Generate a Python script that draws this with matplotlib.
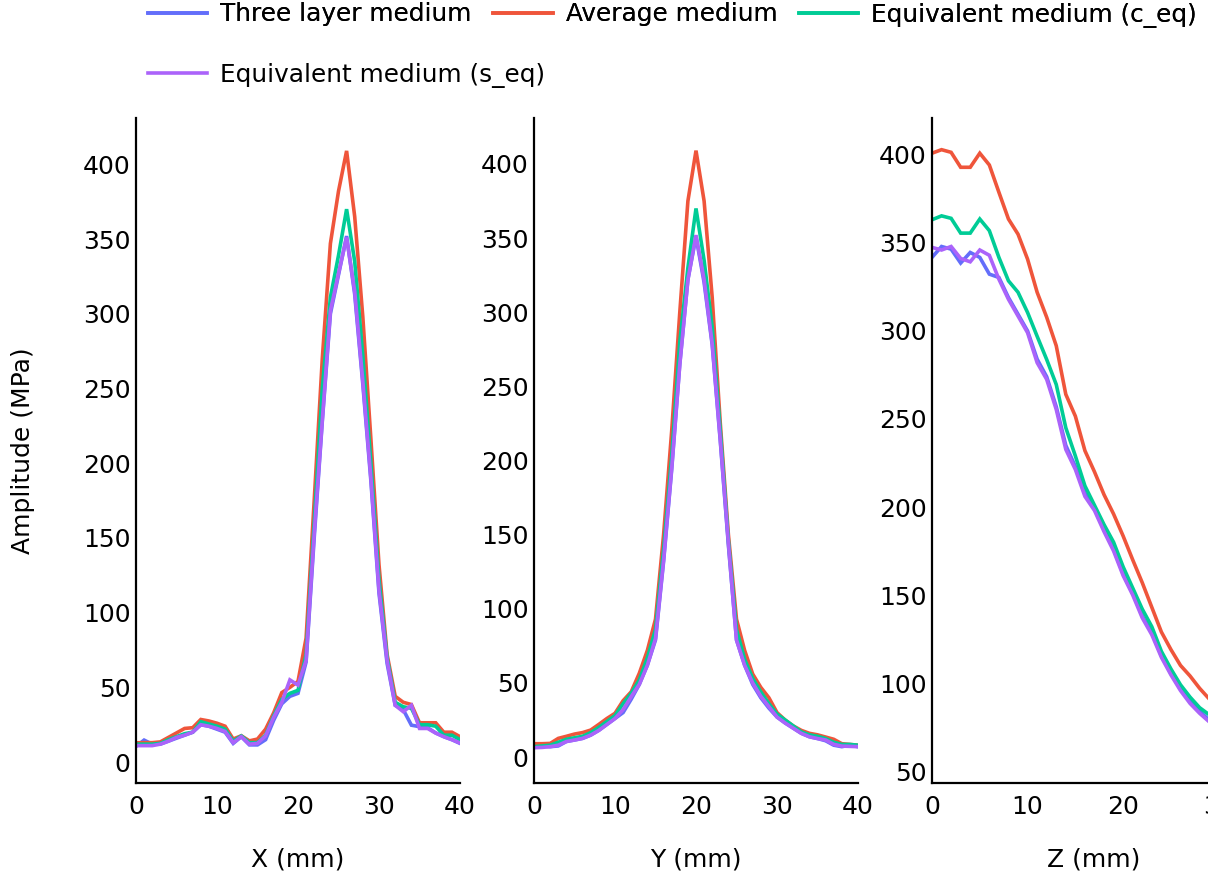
import matplotlib.pyplot as plt
import numpy as np

plt.rcParams['font.family'] = ['DejaVu Sans']

# --- data ---
labels = ["Three layer medium", "Average medium",
          "Equivalent medium (c_eq)", "Equivalent medium (s_eq)"]
colors = ["#636efa", "#ef553b", "#00cc96", "#ab63fa"]

x_pos = np.arange(0, 41)
x_three = [10.5, 14.7, 12, 12, 14, 16, 18, 20, 25, 24, 22, 20, 12.5, 17, 11.5, 11.5,
           15, 28, 39, 44, 46, 67, 150, 228, 300, 326, 352, 313, 253, 188, 113, 66,
           38, 35, 24.7, 23.7, 23, 19.5, 17, 15, 12.5]
x_avg = [12.9, 13, 13, 13.5, 16.5, 19.5, 22.5, 23, 28.5, 27.5, 26, 24, 15.4, 17.6, 14.2,
         15.4, 22, 33, 46.5, 50, 54, 83, 175, 270, 347, 382, 409, 365, 298, 216, 132,
         72, 44, 40, 38.5, 26.3, 26.3, 26.3, 20, 20, 17]
x_ceq = [12, 12, 12, 12.5, 15, 17, 19, 20, 27, 25.5, 24, 22, 14, 17.5, 13, 13, 18, 31,
         42, 46, 48, 72, 160, 250, 311, 339, 370, 335, 272, 200, 122, 70, 40, 37, 36,
         25, 25, 24, 18, 18, 15]
x_seq = [11, 11, 11, 12, 14, 16.5, 18, 20, 25, 24, 22.5, 20.5, 13, 17, 12, 12.5, 17.5,
         30, 40, 55, 51.5, 68, 153, 229, 302, 327, 351, 315, 255, 190, 115, 68, 38,
         33.7, 38, 22.5, 22.5, 19.4, 17, 15, 12.8]

y_pos = np.arange(0, 41)
y_three = [6.5, 7.5, 7, 7.5, 10.5, 11.5, 12.6, 14.8, 18, 22, 26, 30, 39, 49, 62, 79,
           132, 194, 265, 322, 351, 320, 278, 213, 143, 79, 62, 49, 40, 33, 27, 23,
           19.5, 16, 13.7, 12.5, 11, 8, 7, 8, 7]
y_avg = [9, 9, 9.2, 12.6, 14, 15.5, 16.5, 18.2, 22, 26, 29.5, 38, 44, 56.5, 72, 93, 150,
         220, 300, 375, 409, 375, 310, 225, 150, 93, 72, 56, 47, 40, 30, 25, 21, 18, 16,
         15, 13.5, 12, 9, 8.5, 8]
y_ceq = [7, 7.5, 8, 10, 12, 13, 14, 16.5, 20, 24, 28, 36, 43, 52, 67, 86, 140, 203, 280,
         330, 370, 335, 290, 220, 146, 86, 66, 53, 44, 36, 29, 25, 21, 17, 15, 14, 12.5,
         10, 8.5, 8.5, 8]
y_seq = [6.3, 6.5, 7, 8, 10.5, 11.5, 12.6, 14.8, 18, 22, 26, 32, 40.7, 49, 62, 80, 133,
         195, 265, 322, 352, 322, 279, 214, 144, 79, 62, 50, 41, 34, 27, 23, 19.5, 16,
         13.7, 12.5, 11.5, 8.6, 7.4, 7.2, 7]

z_pos = np.arange(0, 30)
z_three = [341.8, 348, 346.5, 338.6, 344.6, 341.8, 332.3, 330.4, 319, 309.5, 300, 284,
           274, 257, 235, 223, 208, 199, 187, 176, 162, 151, 138, 128.5, 115.5, 105.5,
           96.5, 89.5, 84, 79]
z_avg = [401, 403, 401.5, 393, 393, 401, 394.3, 378.8, 363.6, 355, 340.8, 322, 307.8,
         291.6, 264, 251.6, 232, 220, 207, 196, 183.5, 170, 157, 143, 129, 119, 110, 104,
         97, 91]
z_ceq = [363.2, 365.4, 364, 355.6, 355.6, 363.6, 357, 341.8, 328.5, 322, 310.5, 297,
         283.8, 269.6, 245, 229, 212, 201, 190, 180, 166, 154, 142, 132, 118, 108, 99,
         92, 86, 82]
z_seq = [347.5, 346, 348, 341.2, 339.3, 346, 343, 329.4, 318, 308.5, 299, 282, 272.5,
         255.4, 232.7, 221.3, 206, 198, 186, 175, 161, 150, 137, 127.4, 114.6, 104.6,
         95.7, 88.4, 82.8, 78]

panels = [
    (x_pos, [x_three, x_avg, x_ceq, x_seq], "X (mm)", (0, 40), (-14, 431), np.arange(0, 401, 50)),
    (y_pos, [y_three, y_avg, y_ceq, y_seq], "Y (mm)", (0, 40), (-17.5, 431), np.arange(0, 401, 50)),
    (z_pos, [z_three, z_avg, z_ceq, z_seq], "Z (mm)", (0, 33.9), (43.2, 421), np.arange(50, 401, 50)),
]

W, H = 1208, 882
fig = plt.figure(figsize=(W / 100, H / 100), dpi=100)

lefts = [136, 534, 932]
top, width, height = 118, 324, 665

lines = []
for i, (pos, series, xlabel, xlim, ylim, yticks) in enumerate(panels):
    ax = fig.add_axes([lefts[i] / W, 1 - (top + height) / H, width / W, height / H])
    for s, c, lab in zip(series, colors, labels):
        ln, = ax.plot(pos, s, color=c, lw=2.6, label=lab, solid_joinstyle='miter')
        if i == 0:
            lines.append(ln)
    # ticks first, then limits (set_ticks would widen the view otherwise)
    ax.set_xticks(np.arange(0, 41, 10))
    ax.set_yticks(yticks)
    ax.set_xlim(*xlim)
    ax.set_ylim(*ylim)
    for side in ["top", "right"]:
        ax.spines[side].set_visible(False)
    for side in ["left", "bottom"]:
        ax.spines[side].set_linewidth(1.6)
        ax.spines[side].set_color("black")
    ax.tick_params(axis="both", length=0, labelsize=18)
    ax.tick_params(axis="x", pad=9)
    ax.tick_params(axis="y", pad=4)
    ax.set_xlabel(xlabel, fontsize=18)
    ax.xaxis.set_label_coords(0.5, -(848 - 783) / height)
    if i == 0:
        ax.set_ylabel("Amplitude (MPa)", fontsize=18)
        ax.yaxis.set_label_coords((35 - 136) / width, 0.5)

# legend: first row with three entries, second row with the last one
leg1 = fig.legend(lines[:3], labels[:3], loc="center left", ncol=3,
                  bbox_to_anchor=(148 / W, 1 - 15 / H), frameon=False, fontsize=17.8,
                  handlelength=2.4, handletextpad=0.52, columnspacing=0.88,
                  borderpad=0, borderaxespad=0)
fig.legend(lines[3:], labels[3:], loc="center left",
           bbox_to_anchor=(148 / W, 1 - 75 / H), frameon=False, fontsize=17.8,
           handlelength=2.4, handletextpad=0.52, borderpad=0, borderaxespad=0)
fig.add_artist(leg1)

fig.savefig("out.png", dpi=100)
